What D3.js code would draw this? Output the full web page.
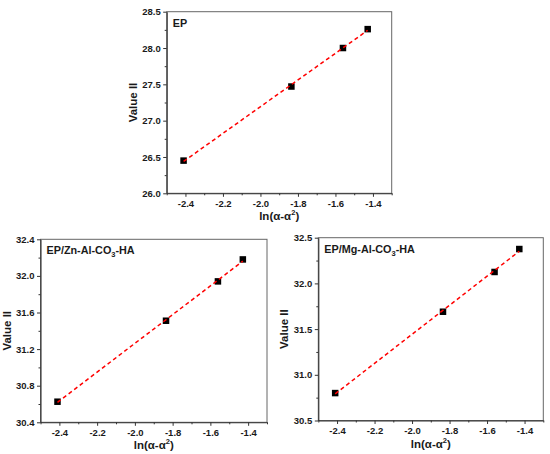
<!DOCTYPE html>
<html>
<head>
<meta charset="utf-8">
<script src="https://cdn.jsdelivr.net/npm/d3@7"></script>
<style>
  html, body { margin: 0; padding: 0; background: #fff; }
  svg { display: block; font-family: "Liberation Sans", Arial, sans-serif; }
</style>
</head>
<body>
<svg id="chart" width="550" height="454"></svg>
<script>
// ---- data ----
const xValues = [-2.41, -1.835, -1.56, -1.428];
const epValues = [26.45, 27.47, 28.00, 28.26];
const znValues = [30.625, 31.51, 31.94, 32.18];
const mgValues = [30.80, 31.69, 32.125, 32.376];
const xTicks = [-2.4, -2.2, -2.0, -1.8, -1.6, -1.4];
const epTicks = [26.0, 26.5, 27.0, 27.5, 28.0, 28.5];
const znTicks = [30.4, 30.8, 31.2, 31.6, 32.0, 32.4];
const mgTicks = [30.5, 31.0, 31.5, 32.0, 32.5];

const panels = [
  { label: ["EP"], y: epValues, ticks: epTicks, domain: [26.0, 28.5], minorStep: 0.25,
    box: { left: 166.7, right: 391.7, top: 11.7, bottom: 193.3 } },
  { label: ["EP/Zn-Al-CO", "3", "-HA"], y: znValues, ticks: znTicks, domain: [30.4, 32.4], minorStep: 0.2,
    box: { left: 40.5, right: 267, top: 239.3, bottom: 422.3 } },
  { label: ["EP/Mg-Al-CO", "3", "-HA"], y: mgValues, ticks: mgTicks, domain: [30.5, 32.5], minorStep: 0.25,
    box: { left: 318.3, right: 543.3, top: 237.7, bottom: 420.5 } }
];

const svg = d3.select("#chart");
const textColor = "#1a1a1a";

function linfit(xs, ys) {
  const n = xs.length;
  const mx = d3.mean(xs), my = d3.mean(ys);
  let sxy = 0, sxx = 0;
  for (let i = 0; i < n; i++) { sxy += (xs[i] - mx) * (ys[i] - my); sxx += (xs[i] - mx) ** 2; }
  const b = sxy / sxx;
  return { a: my - b * mx, b };
}

panels.forEach(p => {
  const b = p.box;
  const x = d3.scaleLinear().domain([-2.5, -1.3]).range([b.left, b.right]);
  const y = d3.scaleLinear().domain(p.domain).range([b.bottom, b.top]);
  const g = svg.append("g");

  // frame
  g.append("rect")
    .attr("x", b.left).attr("y", b.top)
    .attr("width", b.right - b.left).attr("height", b.bottom - b.top)
    .attr("fill", "none").attr("stroke", "#666").attr("stroke-width", 1);

  // minor ticks
  const xMinor = d3.range(-2.5, -1.3 + 1e-9, 0.1).map(v => +v.toFixed(2));
  const yMinor = d3.range(p.domain[0], p.domain[1] + 1e-9, p.minorStep).map(v => +v.toFixed(3));

  const xAxis = d3.axisBottom(x).tickValues(xTicks).tickSize(3.5).tickSizeOuter(0)
    .tickFormat(d => d.toFixed(1));
  const yAxis = d3.axisLeft(y).tickValues(p.ticks).tickSize(3.5).tickSizeOuter(0)
    .tickFormat(d => d.toFixed(1));

  const gx = g.append("g").attr("transform", `translate(0,${b.bottom})`).call(xAxis);
  const gy = g.append("g").attr("transform", `translate(${b.left},0)`).call(yAxis);

  g.append("g").attr("transform", `translate(0,${b.bottom})`)
    .call(d3.axisBottom(x).tickValues(xMinor.filter(v => !xTicks.some(t => Math.abs(t - v) < 1e-6))).tickSize(2).tickFormat(""))
    .call(s => s.select(".domain").remove());
  g.append("g").attr("transform", `translate(${b.left},0)`)
    .call(d3.axisLeft(y).tickValues(yMinor.filter(v => !p.ticks.some(t => Math.abs(t - v) < 1e-6))).tickSize(2).tickFormat(""))
    .call(s => s.select(".domain").remove());

  [gx, gy].forEach(a => {
    a.select(".domain").attr("stroke", "#333").attr("stroke-width", 1.1);
    a.selectAll(".tick line").attr("stroke", "#333");
    a.selectAll(".tick text").attr("fill", textColor)
      .attr("font-size", "9.5px").attr("font-weight", "bold")
      .attr("font-family", "Liberation Sans, Arial, sans-serif");
  });
  gx.selectAll(".tick text").attr("dy", "0.71em").attr("y", 7);
  gy.selectAll(".tick text").attr("x", -6);
  g.selectAll("g .tick line").attr("stroke", "#333");

  // axis titles
  const xt = g.append("text")
    .attr("x", (b.left + b.right) / 2).attr("y", b.bottom + 27)
    .attr("text-anchor", "middle").attr("font-size", "11.5px").attr("font-weight", "bold")
    .attr("fill", textColor);
  xt.append("tspan").text("ln(α-α");
  xt.append("tspan").text("2").attr("font-size", "7.5px").attr("dy", "-5");
  xt.append("tspan").text(")").attr("dy", "5");

  g.append("text")
    .attr("transform", `translate(${b.left - 30},${(b.top + b.bottom) / 2}) rotate(-90)`)
    .attr("text-anchor", "middle").attr("font-size", "11.5px").attr("font-weight", "bold")
    .attr("fill", textColor).text("Value II");

  // panel label
  const lt = g.append("text")
    .attr("x", b.left + 6).attr("y", b.top + 15)
    .attr("font-size", "10.8px").attr("font-weight", "bold").attr("fill", textColor);
  lt.append("tspan").text(p.label[0]);
  if (p.label.length > 1) {
    lt.append("tspan").text(p.label[1]).attr("font-size", "7.5px").attr("dy", "3");
    lt.append("tspan").text(p.label[2]).attr("dy", "-3");
  }

  // markers
  const pts = xValues.map((xv, i) => ({ x: xv, y: p.y[i] }));
  const sz = 6.5;
  g.selectAll("rect.pt").data(pts).enter().append("rect").attr("class", "pt")
    .attr("x", d => x(d.x) - sz / 2).attr("y", d => y(d.y) - sz / 2)
    .attr("width", sz).attr("height", sz).attr("fill", "#000");

  // fit line
  const f = linfit(xValues, p.y);
  const x0 = d3.min(xValues), x1 = d3.max(xValues);
  g.append("line")
    .attr("x1", x(x0)).attr("y1", y(f.a + f.b * x0))
    .attr("x2", x(x1)).attr("y2", y(f.a + f.b * x1))
    .attr("stroke", "#ff0000").attr("stroke-width", 1.5)
    .attr("stroke-dasharray", "4,3");
});
</script>
</body>
</html>
